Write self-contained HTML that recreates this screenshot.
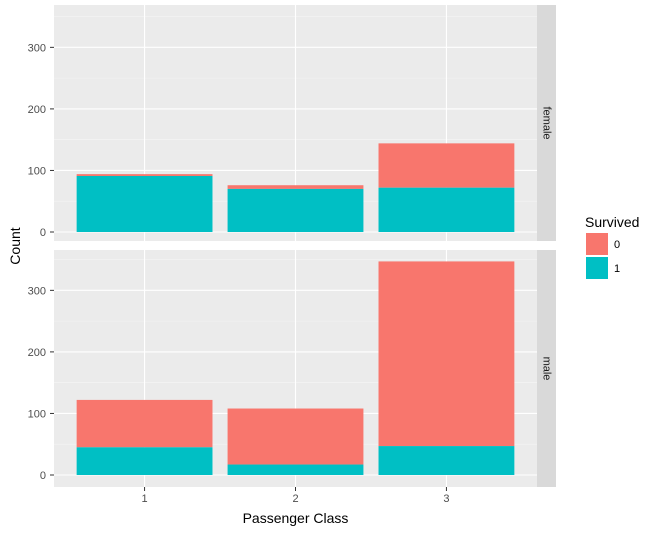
<!DOCTYPE html>
<html><head><meta charset="utf-8"><style>body{margin:0;background:#fff}svg{font-family:"Liberation Sans",sans-serif}</style></head>
<body>
<svg id="c" width="657" height="532"></svg>
<script>
const classes=["1","2","3"];
const facets=["female","male"];
const died=[[3,6,72],[77,91,300]];
const survived=[[91,70,72],[45,17,47]];
const yTicks=[0,100,200,300];
const minorTicks=[50,150,250,350];
const svg=document.getElementById('c');
const NS="http://www.w3.org/2000/svg";
function mk(t,a,p){const e=document.createElementNS(NS,t);for(const k in a)e.setAttribute(k,a[k]);(p||svg).appendChild(e);return e;}
const L=54,R=537,unit=(R-L)/3.2;
const xs=i=>L+(i+0.6)*unit;
const bw=0.9*unit;
const panels=[{top:5,bot:241,zero:232},{top:250,bot:487,zero:475}];
const k=0.6155;
panels.forEach((p,f)=>{
  const ys=v=>p.zero-v*k;
  const bg=mk('rect',{x:L,y:p.top,width:R-L,height:p.bot-p.top,fill:'#ebebeb'});
  
  
  minorTicks.forEach(v=>{const y=ys(v);if(y>p.top)mk('line',{x1:L,x2:R,y1:y,y2:y,stroke:'#f5f5f5','stroke-width':0.6});});
  yTicks.forEach(v=>{const y=ys(v);
    mk('line',{x1:L,x2:R,y1:y,y2:y,stroke:'#fff','stroke-width':1.1});
    mk('line',{x1:50,x2:L,y1:y,y2:y,stroke:'#333','stroke-width':1});
    const t=mk('text',{x:46,y:y+4,'text-anchor':'end','font-size':11,fill:'#4d4d4d'});t.textContent=v;
    
    
  });
  classes.forEach((c,i)=>mk('line',{x1:xs(i),x2:xs(i),y1:p.top,y2:p.bot,stroke:'#fff','stroke-width':1.1}));
  classes.forEach((c,i)=>{
    const s=survived[f][i],d=died[f][i];
    const b1=mk('rect',{x:xs(i)-bw/2,y:ys(s+d),width:bw,height:d*k,fill:'#f8766d'});
    
    
    const b2=mk('rect',{x:xs(i)-bw/2,y:ys(s),width:bw,height:s*k,fill:'#00bfc4'});
    
    
  });
  const st=mk('rect',{x:R,y:p.top,width:19,height:p.bot-p.top,fill:'#d9d9d9'});
  
  
  const cy=(p.top+p.bot)/2;
  const tt=mk('text',{x:R+9.5,y:cy,'text-anchor':'middle','font-size':11,fill:'#1a1a1a',transform:`rotate(90 ${R+9.5} ${cy})`,'dominant-baseline':'central'});
  tt.textContent=facets[f];
  
  
});
classes.forEach((c,i)=>{
  mk('line',{x1:xs(i),x2:xs(i),y1:487,y2:491,stroke:'#333'});
  const t=mk('text',{x:xs(i),y:502,'text-anchor':'middle','font-size':11,fill:'#4d4d4d'});t.textContent=c;
  
  
});
const xt=mk('text',{x:(L+R)/2,y:523,'text-anchor':'middle','font-size':14,fill:'#000'});xt.textContent='Passenger Class';


const yt=mk('text',{x:20,y:246,'text-anchor':'middle','font-size':14,fill:'#000',transform:'rotate(-90 20 246)'});yt.textContent='Count';


const lt=mk('text',{x:585,y:227,'font-size':14,fill:'#000'});lt.textContent='Survived';


[['0','#f8766d',233],['1','#00bfc4',257]].forEach(([lab,col,y])=>{
  const r=mk('rect',{x:586,y:y,width:22,height:22,fill:col});
  
  
  const t=mk('text',{x:614,y:y+15,'font-size':11,fill:'#000'});t.textContent=lab;
  
  
});
</script>
</body></html>
